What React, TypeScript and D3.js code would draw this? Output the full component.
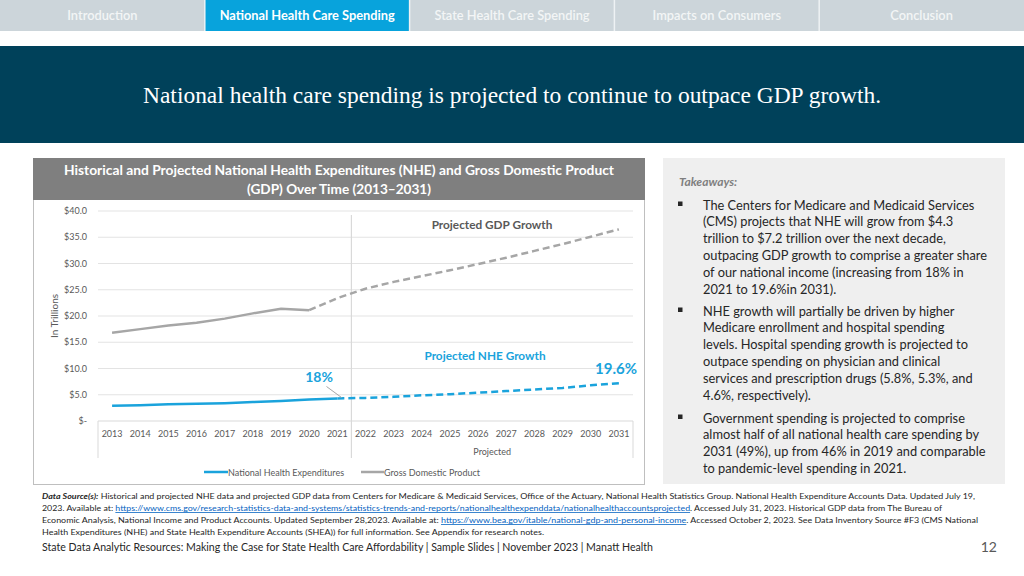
import React from "react";
import * as d3 from "d3";

const years = ["2013","2014","2015","2016","2017","2018","2019","2020","2021","2022","2023","2024","2025","2026","2027","2028","2029","2030","2031"];
const gdpValues = [16.8,17.5,18.2,18.7,19.5,20.5,21.4,21.1,23.4,25.2,26.5,27.6,28.7,29.9,31.1,32.4,33.7,35.1,36.5];
const nheValues = [2.9,3.0,3.2,3.3,3.4,3.6,3.8,4.1,4.3,4.4,4.6,4.9,5.1,5.4,5.7,6.0,6.3,6.8,7.2];
const yTicks = [0,5,10,15,20,25,30,35,40];
const navTabs = ["Introduction","National Health Care Spending","State Health Care Spending","Impacts on Consumers","Conclusion"];
const activeTab = 1;
const lastHistGdp = "2020";
const lastHistNhe = "2021";

const takeawayBullets = [
  ["The Centers for Medicare and Medicaid Services","(CMS) projects that NHE will grow from $4.3","trillion to $7.2 trillion over the next decade,","outpacing GDP growth to comprise a greater share","of our national income (increasing from 18% in","2021 to 19.6%in 2031)."],
  ["NHE growth will partially be driven by higher","Medicare enrollment and hospital spending","levels.  Hospital spending growth is projected to","outpace spending on physician and clinical","services and prescription drugs (5.8%, 5.3%, and","4.6%, respectively)."],
  ["Government spending is projected to comprise","almost half of all national health care spending by","2031 (49%), up from 46% in 2019 and comparable","to pandemic-level spending in 2021."],
];

const BLUE = "#1aa3dc";
const GRAY = "#a6a6a6";
const FONT = "Lato, 'Open Sans', sans-serif";

export default function App() {
  const x = d3.scaleBand<string>().domain(years).range([98, 633]).padding(0);
  const y = d3.scaleLinear().domain([0, 40]).range([421, 211]);
  const cx = (yr: string) => (x(yr) as number) + x.bandwidth() / 2;

  const gdp = years.map((yr, i) => ({ yr, v: gdpValues[i] }));
  const nhe = years.map((yr, i) => ({ yr, v: nheValues[i] }));
  const line = d3.line<{ yr: string; v: number }>().x(d => cx(d.yr)).y(d => y(d.v));

  const gi = years.indexOf(lastHistGdp);
  const ni = years.indexOf(lastHistNhe);
  const divX = (x("2022") as number);

  const tabW = 1024 / navTabs.length;

  return (
    <svg width={1024} height={576} style={{ position: "absolute", left: 0, top: 0, background: "#fff" }} fontFamily={FONT}>
      {/* nav */}
      <rect x={0} y={0} width={1024} height={31} fill="#ccd5da" />
      {navTabs.map((t, i) => (
        <g key={t}>
          <rect x={i * tabW} y={0} width={tabW} height={31} fill={i === activeTab ? "#08a3dc" : "#ccd5da"} />
          {i > 0 && <line x1={i * tabW} x2={i * tabW} y1={0} y2={31} stroke="#eef2f4" strokeWidth={1.5} />}
          <text x={i * tabW + tabW / 2} y={20} textAnchor="middle" fontSize={12.8} fontWeight={i === activeTab ? 700 : 600} fill={i === activeTab ? "#ffffff" : "#f3f5f6"}>{t}</text>
        </g>
      ))}
      {/* title band */}
      <rect x={0} y={46} width={1024} height={97} fill="#00415a" />
      <text x={512} y={103} textAnchor="middle" fontFamily="'Liberation Serif', 'DejaVu Serif', serif" fontSize={23} fill="#ffffff" textLength={738} lengthAdjust="spacingAndGlyphs">National health care spending is projected to continue to outpace GDP growth.</text>

      {/* chart box */}
      <rect x={33.5} y={158.5} width={611} height={326} fill="#fff" stroke="#bfbfbf" strokeWidth={1} />
      <rect x={33} y={158} width={612} height={42} fill="#7f7f7f" />
      <text x={339} y={175} textAnchor="middle" fontSize={13.6} fontWeight={700} fill="#fff" textLength={550} lengthAdjust="spacingAndGlyphs">Historical and Projected National Health Expenditures (NHE) and Gross Domestic Product</text>
      <text x={339} y={194} textAnchor="middle" fontSize={13.6} fontWeight={700} fill="#fff" textLength={184} lengthAdjust="spacingAndGlyphs">(GDP) Over Time (2013–2031)</text>

      {/* gridlines */}
      {yTicks.filter(t => t > 0).map(t => (
        <line key={t} x1={98} x2={633} y1={y(t)} y2={y(t)} stroke="#e3e3e3" strokeWidth={1} />
      ))}
      {yTicks.map(t => (
        <text key={"l" + t} x={87} y={y(t) + 3} textAnchor="end" fontSize={9} fill="#595959">{t === 0 ? "$-" : "$" + t.toFixed(1)}</text>
      ))}
      <text transform={`translate(58,316) rotate(-90)`} textAnchor="middle" fontSize={10} fill="#595959">In Trillions</text>

      {/* axis box */}
      <line x1={98} x2={633} y1={421} y2={421} stroke="#d9d9d9" />
      <line x1={98} x2={98} y1={421} y2={458} stroke="#d9d9d9" />
      <line x1={633} x2={633} y1={421} y2={458} stroke="#d9d9d9" />
      <line x1={divX} x2={divX} y1={215} y2={458} stroke="#d9d9d9" strokeWidth={1.2} />
      {years.map(yr => (
        <text key={yr} x={cx(yr)} y={437} textAnchor="middle" fontSize={9} fill="#595959">{yr}</text>
      ))}
      <text x={(divX + 633) / 2} y={455} textAnchor="middle" fontSize={9} fill="#595959">Projected</text>

      {/* lines */}
      <path d={line(gdp.slice(0, gi + 1)) as string} fill="none" stroke={GRAY} strokeWidth={2.5} />
      <path d={line(gdp.slice(gi)) as string} fill="none" stroke={GRAY} strokeWidth={2.5} strokeDasharray="7,4" />
      <path d={line(nhe.slice(0, ni + 1)) as string} fill="none" stroke={BLUE} strokeWidth={2.5} />
      <path d={line(nhe.slice(ni)) as string} fill="none" stroke={BLUE} strokeWidth={2.5} strokeDasharray="7,4" />

      {/* annotations */}
      <line x1={326.5} y1={386.5} x2={341.5} y2={397.5} stroke="#a6a6a6" strokeWidth={1} />
      <text x={319} y={382} textAnchor="middle" fontSize={14} fontWeight={700} fill={BLUE}>18%</text>
      <text x={616} y={374} textAnchor="middle" fontSize={15} fontWeight={700} fill={BLUE}>19.6%</text>
      <text x={492} y={229} textAnchor="middle" fontSize={11.8} fontWeight={700} fill="#595959">Projected GDP Growth</text>
      <text x={485} y={360} textAnchor="middle" fontSize={11.8} fontWeight={700} fill={BLUE}>Projected NHE Growth</text>

      {/* legend */}
      <line x1={204} x2={228} y1={472} y2={472} stroke={BLUE} strokeWidth={2.5} />
      <text x={228} y={475.5} fontSize={9} fill="#595959">National Health Expenditures</text>
      <line x1={361} x2={384} y1={472} y2={472} stroke={GRAY} strokeWidth={2.5} />
      <text x={384} y={475.5} fontSize={9} fill="#595959">Gross Domestic Product</text>

      {/* takeaways */}
      <rect x={663} y={158} width={342} height={326} fill="#efefef" />
      <text x={679} y={186} fontSize={12} fontStyle="italic" fontWeight={700} fill="#7f7f7f">Takeaways:</text>
      {takeawayBullets.map((lines, bi) => {
        const starts = [205, 311, 418];
        return (
          <g key={bi}>
            <rect x={678} y={starts[bi] - 3.5} width={4.5} height={4.5} fill="#262626" />
            {lines.map((l, li) => (
              <text key={li} x={703} y={starts[bi] + 4.5 + li * 16.8} fontSize={12.8} fill="#262626">{l}</text>
            ))}
          </g>
        );
      })}

      {/* footer */}
      <g fontSize={7.8} fill="#262626">
        <text x={42} y={499} textLength={933} lengthAdjust="spacingAndGlyphs"><tspan fontWeight={700} fontStyle="italic">Data Source(s):</tspan> Historical and projected NHE data and projected GDP data from Centers for Medicare &amp; Medicaid Services, Office of the Actuary, National Health Statistics Group. National Health Expenditure Accounts Data. Updated July 19,</text>
        <text x={42} y={511} textLength={900} lengthAdjust="spacingAndGlyphs">2023. Available at: <tspan fill="#0563c1" textDecoration="underline">https://www.cms.gov/research-statistics-data-and-systems/statistics-trends-and-reports/nationalhealthexpenddata/nationalhealthaccountsprojected</tspan>. Accessed July 31, 2023. Historical GDP data from The Bureau of</text>
        <text x={42} y={523} textLength={936} lengthAdjust="spacingAndGlyphs">Economic Analysis, National Income and Product Accounts. Updated September 28,2023. Available at: <tspan fill="#0563c1" textDecoration="underline">https://www.bea.gov/itable/national-gdp-and-personal-income</tspan>. Accessed October 2, 2023. See Data Inventory Source #F3 (CMS National</text>
        <text x={42} y={535} textLength={502} lengthAdjust="spacingAndGlyphs">Health Expenditures (NHE)  and State Health Expenditure Accounts (SHEA)) for full information. See Appendix for research notes.</text>
      </g>
      <text x={42} y={551} fontSize={10.5} fill="#262626" textLength={611} lengthAdjust="spacingAndGlyphs">State Data Analytic Resources: Making the Case for State Health Care Affordability | Sample Slides | November 2023 | Manatt Health</text>
      <text x={997} y={552} textAnchor="end" fontSize={14} fill="#595959">12</text>
    </svg>
  );
}
